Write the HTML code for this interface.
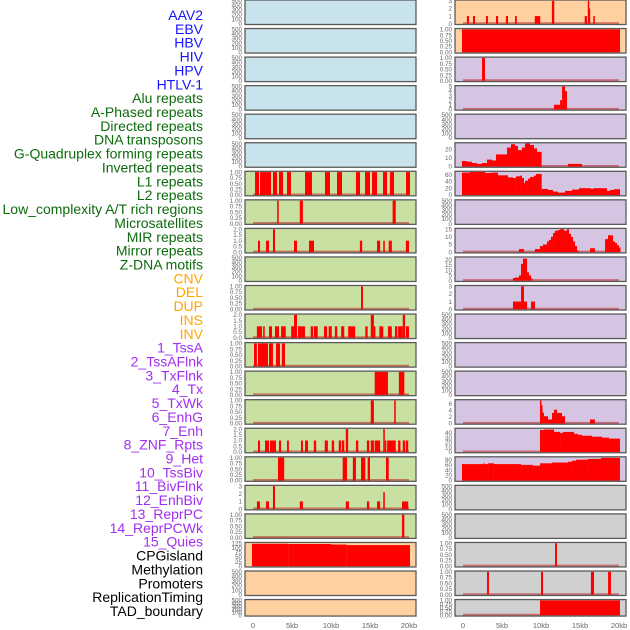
<!DOCTYPE html>
<html><head><meta charset="utf-8"><style>
html,body{margin:0;padding:0;background:#fff;}
svg{display:block;font-family:"Liberation Sans",sans-serif;}
</style></head><body>
<svg id="chart" width="630" height="630" viewBox="0 0 630 630" xmlns="http://www.w3.org/2000/svg"></svg>
<script>
// ---- labels ----
const trackLabels = ["AAV2","EBV","HBV","HIV","HPV","HTLV-1","Alu repeats","A-Phased repeats","Directed repeats","DNA transposons","G-Quadruplex forming repeats","Inverted repeats","L1 repeats","L2 repeats","Low_complexity A/T rich regions","Microsatellites","MIR repeats","Mirror repeats","Z-DNA motifs","CNV","DEL","DUP","INS","INV","1_TssA","2_TssAFlnk","3_TxFlnk","4_Tx","5_TxWk","6_EnhG","7_Enh","8_ZNF_Rpts","9_Het","10_TssBiv","11_BivFlnk","12_EnhBiv","13_ReprPC","14_ReprPCWk","15_Quies","CPGisland","Methylation","Promoters","ReplicationTiming","TAD_boundary"];
const labelGroups = ["virus","virus","virus","virus","virus","virus","rep","rep","rep","rep","rep","rep","rep","rep","rep","rep","rep","rep","rep","sv","sv","sv","sv","sv","cs","cs","cs","cs","cs","cs","cs","cs","cs","cs","cs","cs","cs","cs","cs","oth","oth","oth","oth","oth"];
const xTickValues = [0,5,10,15,20];
const xTickLabels = ["0","5kb","10kb","15kb","20kb"];

// ---- tick sets ----
const ticksEmpty = [0,100,200,300,400,500];
const ticksUnit = [0,0.25,0.5,0.75,1];
const ticksTwo = [0,0.5,1,1.5,2];
const ticksThree = [0,1,2,3];
const ticksFive = [0,1,2,3,4,5];
const ticksFifteen = [0,5,10,15];
const ticksTwenty = [0,10,20];
const ticksSixty = [0,20,40,60];
const ticksZnf = [0,5,10,15,20];
const ticksSix = [0,2,4,6];
const ticksForty = [0,10,20,30,40];
const ticksEighty = [0,20,40,60,80];
const ticksCnv = [0,25,50,75,100,125];

// ---- segment data [startKb, endKb, value] ----
const segAlu = [[0.26,0.77,1],[0.9,2.31,1],[2.56,3.08,1],[3.33,3.85,1],[4.36,4.87,1],[6.67,7.56,1],[9.23,9.87,1],[10.77,11.41,1],[13.2,13.72,1],[14.36,15.0,1],[15.26,15.9,1],[16.67,17.18,1],[17.56,18.08,1],[19.62,20.13,1]];
const segAPhased = [[3.1,3.3,1],[6.0,6.4,1],[17.9,18.3,1]];
const segDirected = [[0.64,0.9,1],[1.67,2.05,1],[2.56,2.82,2],[5.26,5.64,1],[7.18,7.82,1],[13.7,14.0,1],[15.9,16.3,1],[16.7,16.9,1],[17.4,17.8,1],[19.6,20.0,1]];
const segGQuad = [[13.85,14.1,1]];
const segInverted = [[0.5,1.15,1],[1.3,1.5,1],[2.05,2.44,1],[2.82,3.33,1],[3.6,4.2,1],[4.9,5.26,1],[5.26,5.64,2],[5.77,6.67,1],[7.4,7.7,1],[7.8,8.3,1],[9.1,9.5,1],[9.7,10.1,1],[10.5,10.8,1],[11.3,11.7,1],[12.2,13.1,1],[14.4,14.7,1],[15.1,15.5,2],[15.5,15.65,1],[16.2,16.7,1],[17.3,17.8,1],[18.2,18.5,1],[18.6,19.2,1],[19.2,19.5,2],[19.6,20.0,1]];
const segL1 = [[0.13,0.5,1],[0.64,1.92,1],[2.05,2.56,1],[2.95,3.46,1],[3.7,4.1,1]];
const segL2 = [[15.6,17.3,1],[18.7,19.4,1]];
const segLowComplex = [[15.1,15.5,1],[18.1,18.3,1]];
const segMicrosat = [[0.64,0.9,1],[1.54,2.05,1],[2.18,2.56,1],[2.56,2.95,1],[3.33,3.6,1],[4.36,4.6,1],[6.15,6.4,1],[6.67,7.05,1],[7.8,8.1,1],[9.2,9.6,1],[10.1,10.4,1],[11.0,11.3,1],[11.4,11.7,1],[11.9,12.2,2],[13.2,13.5,1],[14.6,14.9,1],[15.1,15.5,1],[15.6,16.3,1],[16.7,16.9,2],[16.9,17.05,1],[17.2,18.3,1],[18.6,18.9,1],[19.2,19.5,1],[19.6,19.9,1]];
const segMIR = [[3.2,4.0,1],[11.5,12.05,1],[12.8,13.2,1],[13.85,14.4,1],[14.7,15.0,1],[17.05,17.4,1]];
const segMirror = [[0.5,0.9,1],[1.67,2.05,1],[2.56,2.82,3],[6.0,6.4,1],[11.9,12.3,1],[14.6,14.9,1],[15.9,16.3,1],[16.7,16.9,2.2],[19.1,19.9,1]];
const segZDNA = [[19.1,19.4,1]];
const segCNV = [[-0.13,4.5,122],[4.5,10.0,121],[10.0,12.0,118],[12.0,20.13,115]];
const segINS = [[0.5,0.77,1],[1.28,1.54,1],[2.95,3.2,1],[4.23,4.5,1],[5.5,5.77,1],[6.67,6.9,1],[9.2,9.9,1],[11.4,11.7,3],[15.6,15.9,1],[16.0,16.1,3],[16.1,16.3,2],[16.7,16.9,1]];
const segINV = [[-0.13,20.13,1]];
const segTssA = [[2.44,2.82,1]];
const segTssAFlnk = [[11.67,12.44,1],[12.44,12.7,2],[12.7,13.08,5],[13.08,13.33,4]];
const segTx = [[-0.13,0.51,6.3],[0.51,1.15,5.5],[1.15,1.79,4],[1.79,2.44,3],[2.44,3.08,4],[3.08,3.72,8],[3.72,4.23,7],[4.23,5.64,14],[5.64,6.15,22],[6.15,6.67,26],[6.67,7.05,24],[7.05,7.56,19],[7.56,7.95,22],[7.95,8.59,27],[8.59,9.1,25],[9.1,9.49,21],[9.49,10.08,17],[13.46,15.26,3]];
const segTxWk = [[-0.13,0.9,66],[0.9,2.82,68],[2.82,3.72,65],[3.72,4.49,66],[4.49,5.77,58],[5.77,6.41,52],[6.41,6.79,50],[6.79,7.31,55],[7.31,7.56,57],[7.56,7.82,50],[7.82,7.95,35],[7.95,8.33,42],[8.33,8.59,48],[8.59,9.1,53],[9.1,9.36,57],[9.36,10.09,62],[10.09,10.9,18],[10.9,11.54,15],[11.54,12.18,10],[12.18,13.08,7],[13.08,13.97,12],[13.97,14.87,16],[14.87,16.41,20],[16.41,16.67,18],[16.67,18.46,20],[18.46,18.85,12],[18.85,19.36,15],[19.36,20.13,17]];
const segEnh = [[7.18,7.82,2],[9.23,9.87,2],[9.87,10.26,4],[10.26,10.77,5],[10.77,11.03,7],[11.03,11.28,8],[11.28,11.54,10],[11.54,11.79,12.5],[11.79,12.18,14],[12.18,12.44,14.5],[12.44,12.95,15],[12.95,13.33,14],[13.33,13.59,15],[13.59,13.85,12],[13.85,14.1,10],[14.1,14.36,7],[14.36,14.62,4],[14.62,14.74,1],[16.28,16.92,2.5],[18.21,18.59,8.5],[18.59,19.23,11],[19.23,19.49,7],[19.49,19.74,6],[19.74,20.0,4.5],[20.0,20.13,3]];
const segZNF = [[6.41,6.67,2.5],[6.67,7.18,3],[7.18,7.44,5],[7.44,7.69,16],[7.69,8.21,21],[8.21,8.46,8],[8.46,8.72,5],[8.72,8.85,2]];
const segHet = [[6.41,7.44,1],[7.44,7.82,3],[7.82,8.21,1],[8.72,9.23,1]];
const segReprPC = [[9.87,10.0,7],[10.0,10.13,5.5],[10.13,10.38,3.3],[10.38,10.9,2.2],[10.9,11.41,1.2],[11.41,11.67,3.2],[11.67,12.05,4.2],[12.05,12.69,3.2],[12.69,13.08,2.2],[16.28,16.92,1.2]];
const segReprPCWk = [[9.87,10.38,46],[10.38,11.67,47],[11.67,12.44,42],[12.44,12.82,40],[12.82,14.23,42],[14.23,14.74,38],[14.74,15.26,36],[15.26,16.54,34],[16.54,17.82,32],[17.82,18.72,30],[18.72,20.13,28]];
const segQuies = [[-0.13,2.56,63],[2.56,2.82,65],[2.82,3.21,63],[3.21,3.97,66],[3.97,7.44,63],[7.44,8.97,60],[8.97,9.87,57],[9.87,11.41,66],[11.41,13.46,69],[13.46,13.97,72],[13.97,14.49,76],[14.49,16.03,80],[16.03,17.69,83],[17.69,20.13,87]];
const segPromoters = [[11.8,12.05,1]];
const segReplication = [[3.08,3.33,1],[10.0,10.26,1],[16.4,16.8,1],[18.6,18.97,1]];
const segTAD = [[9.87,20.13,1]];
const segNone = [];

// per-panel configuration (index = track order)
const panelSegments = [segNone,segNone,segNone,segNone,segNone,segNone,segAlu,segAPhased,segDirected,segNone,segGQuad,segInverted,segL1,segL2,segLowComplex,segMicrosat,segMIR,segMirror,segZDNA,segCNV,segNone,segNone,
  segINS,segINV,segTssA,segTssAFlnk,segNone,segTx,segTxWk,segNone,segEnh,segZNF,segHet,segNone,segNone,segNone,segReprPC,segReprPCWk,segQuies,segNone,segNone,segPromoters,segReplication,segTAD];
const panelTicks = [ticksEmpty,ticksEmpty,ticksEmpty,ticksEmpty,ticksEmpty,ticksEmpty,ticksUnit,ticksUnit,ticksTwo,ticksEmpty,ticksUnit,ticksTwo,ticksUnit,ticksUnit,ticksUnit,ticksTwo,ticksUnit,ticksThree,ticksUnit,ticksCnv,ticksEmpty,ticksEmpty,
  ticksThree,ticksUnit,ticksUnit,ticksFive,ticksEmpty,ticksTwenty,ticksSixty,ticksEmpty,ticksFifteen,ticksZnf,ticksThree,ticksEmpty,ticksEmpty,ticksEmpty,ticksSix,ticksForty,ticksEighty,ticksEmpty,ticksEmpty,ticksUnit,ticksUnit,ticksUnit];
const panelYmax = [500,500,500,500,500,500,1,1,2,500,1,2,1,1,1,2,1,3,1,125,500,500,
  3,1,1,5,500,26.7,67.5,500,15,21.8,3,500,500,500,7,48,88,500,500,1,1,1];
const panelBg = ["blue","blue","blue","blue","blue","blue","green","green","green","green","green","green","green","green","green","green","green","green","green","orange","orange","orange",
  "orange","orange","purple","purple","purple","purple","purple","purple","purple","purple","purple","purple","purple","purple","purple","purple","purple","gray","gray","gray","gray","gray"];

const NS="http://www.w3.org/2000/svg";
const svg=document.getElementById('chart');
const labelColor={virus:"#1414ff",rep:"#0d6b0d",sv:"#ffa500",cs:"#a02ff0",oth:"#000000"};
const bgColor={blue:"#c8e3eb",green:"#c8e0a2",orange:"#ffd0a0",purple:"#d5c5e2",gray:"#d0d0d0"};
function mk(tag,attrs){const e=document.createElementNS(NS,tag);for(const k in attrs)e.setAttribute(k,attrs[k]);return e;}
function xScale(col,kb){return (col===0?253:463)+kb*7.8;}
function fmtTick(ticks,v){
  if(ticks===ticksUnit) return v.toFixed(2);
  if(ticks===ticksTwo) return v.toFixed(1);
  return String(v);
}

// left labels
trackLabels.forEach((t,i)=>{
  const e=mk('text',{x:203,y:15+i*13.86+5,'text-anchor':'end','font-size':'14',fill:labelColor[labelGroups[i]]});
  e.textContent=t;
  
  
  svg.appendChild(e);
});

// panels
for(let i=0;i<44;i++){
  const col=i<22?0:1, row=i%22;
  const top=row*28.55, h=(row===21?16.5:24.5);
  const left=col===0?245:455, w=171;
  const g=mk('g',{});
  
  
  svg.appendChild(g);
  const bg=mk('rect',{x:left,y:top,width:w,height:h,fill:bgColor[panelBg[i]]});
  
  
  g.appendChild(bg);
  const ymax=panelYmax[i];
  const y0=top+h-0.8, y1=top+0.8;
  const yS=v=>y0-(v/ymax)*(y0-y1);
  const segs=panelSegments[i];
  if(segs.length){
    const base=mk('line',{x1:xScale(col,0),x2:xScale(col,20),y1:y0-0.5,y2:y0-0.5,stroke:'rgba(190,30,30,0.55)','stroke-width':2});
    
    
    g.appendChild(base);
  }
  segs.forEach(s=>{
    const xa=xScale(col,s[0]), xb=xScale(col,s[1]);
    const r=mk('rect',{x:xa,y:yS(s[2]),width:Math.max(1.5,xb-xa),height:y0-yS(s[2]),fill:'#ff0000'});
    
    
    g.appendChild(r);
  });
  const fr=mk('rect',{x:left,y:top,width:w,height:h,fill:'none',stroke:'#5a5a5a','stroke-width':1.3});
  
  
  g.appendChild(fr);
  const tk=panelTicks[i];
  tk.forEach(v=>{
    const t=mk('text',{x:left-3,y:yS(v)+2.2,'text-anchor':'end','font-size':'6.3',fill:'#666'});
    t.textContent=fmtTick(tk,v);
    
    
    g.appendChild(t);
  });
}

// x axes
[0,1].forEach(col=>{
  xTickValues.forEach((v,j)=>{
    const t=mk('text',{x:xScale(col,v),y:628,'text-anchor':'middle','font-size':'7.5',fill:'#666'});
    t.textContent=xTickLabels[j];
    
    
    svg.appendChild(t);
  });
});
</script>
</body></html>
